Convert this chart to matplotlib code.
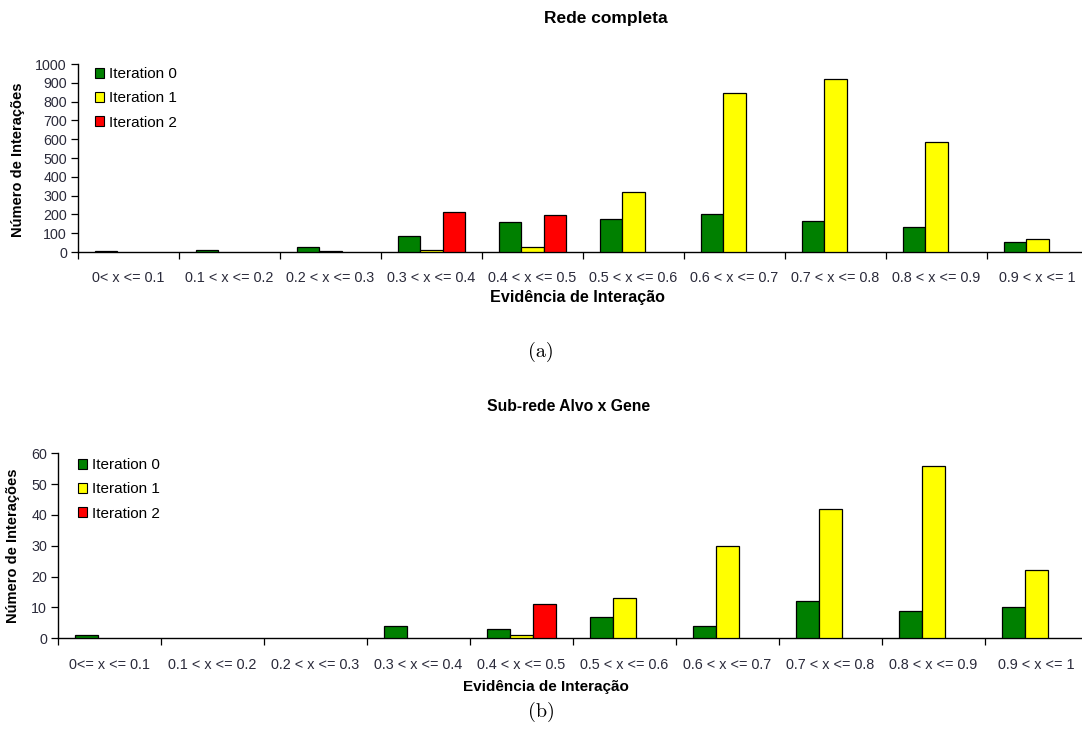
import matplotlib
matplotlib.use("Agg")
import matplotlib.pyplot as plt
import numpy as np
from matplotlib.patches import Patch

# Evidence bins
bins_full = ["0< x <= 0.1", "0.1 < x <= 0.2", "0.2 < x <= 0.3", "0.3 < x <= 0.4",
             "0.4 < x <= 0.5", "0.5 < x <= 0.6", "0.6 < x <= 0.7", "0.7 < x <= 0.8",
             "0.8 < x <= 0.9", "0.9 < x <= 1"]
bins_sub = ["0<= x <= 0.1", "0.1 < x <= 0.2", "0.2 < x <= 0.3", "0.3 < x <= 0.4",
            "0.4 < x <= 0.5", "0.5 < x <= 0.6", "0.6 < x <= 0.7", "0.7 < x <= 0.8",
            "0.8 < x <= 0.9", "0.9 < x <= 1"]

series_names = ["Iteration 0", "Iteration 1", "Iteration 2"]
series_colors = ["#008000", "#FFFF00", "#FF0000"]

# Full network (Rede completa)
full_it0 = [5, 10, 28, 83, 158, 174, 204, 163, 135, 55]
full_it1 = [0, 0, 3, 9, 27, 317, 847, 920, 587, 67]
full_it2 = [0, 0, 0, 214, 199, 0, 0, 0, 0, 0]

# Target x gene sub-network (Sub-rede Alvo x Gene)
sub_it0 = [1, 0, 0, 4, 3, 7, 4, 12, 9, 10]
sub_it1 = [0, 0, 0, 0, 1, 13, 30, 42, 56, 22]
sub_it2 = [0, 0, 0, 0, 11, 0, 0, 0, 0, 0]

W, H = 1082, 755
plt.rcParams["font.family"] = ["Liberation Sans", "DejaVu Sans"]

fig = plt.figure(figsize=(W / 100, H / 100), dpi=100)
fig.patch.set_facecolor("white")


def px_axes(left, top, right, bottom):
    return fig.add_axes([left / W, (H - bottom) / H, (right - left) / W, (bottom - top) / H])


def draw_panel(ax, labels, series, ymax, ystep):
    n = len(labels)
    x = np.arange(n)
    w = 0.222
    for k, (vals, color) in enumerate(zip(series, series_colors)):
        v = np.asarray(vals, dtype=float)
        mask = v > 0
        ax.bar(x[mask] + (k - 1) * w, v[mask], width=w, color=color,
               edgecolor="black", linewidth=0.9, zorder=3)
    ax.set_xlim(-0.5, n - 0.5)
    ax.set_ylim(0, ymax)
    ax.set_xticks(x)
    ax.set_xticklabels(labels, fontsize=10.4, color="#2a2a3a")
    ax.set_xticks(np.arange(n + 1) - 0.5, minor=True)
    ax.tick_params(axis="x", which="major", length=0, pad=14)
    ax.tick_params(axis="x", which="minor", length=5, width=0.9, direction="out")
    ax.set_yticks(np.arange(0, ymax + 1, ystep))
    ax.tick_params(axis="y", length=5, width=0.9, direction="out", labelsize=10.3,
                   pad=3, labelcolor="#2a2a3a")
    for s in ("top", "right"):
        ax.spines[s].set_visible(False)
    for s in ("left", "bottom"):
        ax.spines[s].set_linewidth(1.0)
    ax.set_facecolor("none")


handles = [Patch(facecolor=c, edgecolor="black", linewidth=0.8) for c in series_colors]

# Panel (a)
ax1 = px_axes(78, 64, 1088, 252)
draw_panel(ax1, bins_full, [full_it0, full_it1, full_it2], 1000, 100)
fig.text(606 / W, 1 - 18 / H, "Rede completa", ha="center", va="center",
         fontsize=12.5, fontweight="bold")
fig.text(578 / W, 1 - 298 / H, "Evidência de Interação", ha="center", va="center",
         fontsize=11.6, fontweight="bold")
fig.text(18 / W, 1 - 160 / H, "Número de Interações", ha="center", va="center",
         rotation=90, fontsize=10.5, fontweight="bold")
fig.legend(handles, series_names, loc="upper left",
           bbox_to_anchor=(95 / W, 1 - 67 / H), frameon=False, fontsize=11,
           handlelength=0.62, handleheight=0.62, handletextpad=0.3,
           labelspacing=0.68, borderpad=0, borderaxespad=0)
fig.text(541 / W, 1 - 352 / H, "(a)", ha="center", va="center",
         fontsize=14.5, family=["cmr10", "DejaVu Serif"])

# Panel (b)
ax2 = px_axes(58, 453.3, 1088, 638.3)
draw_panel(ax2, bins_sub, [sub_it0, sub_it1, sub_it2], 60, 10)
fig.text(569 / W, 1 - 407 / H, "Sub-rede Alvo x Gene", ha="center", va="center",
         fontsize=11.3, fontweight="bold")
fig.text(546 / W, 1 - 687 / H, "Evidência de Interação", ha="center", va="center",
         fontsize=11, fontweight="bold")
fig.text(13 / W, 1 - 546 / H, "Número de Interações", ha="center", va="center",
         rotation=90, fontsize=10.5, fontweight="bold")
fig.legend(handles, series_names, loc="upper left",
           bbox_to_anchor=(78 / W, 1 - 458 / H), frameon=False, fontsize=11,
           handlelength=0.62, handleheight=0.62, handletextpad=0.3,
           labelspacing=0.68, borderpad=0, borderaxespad=0)
fig.text(541 / W, 1 - 712 / H, "(b)", ha="center", va="center",
         fontsize=14.5, family=["cmr10", "DejaVu Serif"])

fig.savefig("out.png", dpi=100, facecolor="white")
